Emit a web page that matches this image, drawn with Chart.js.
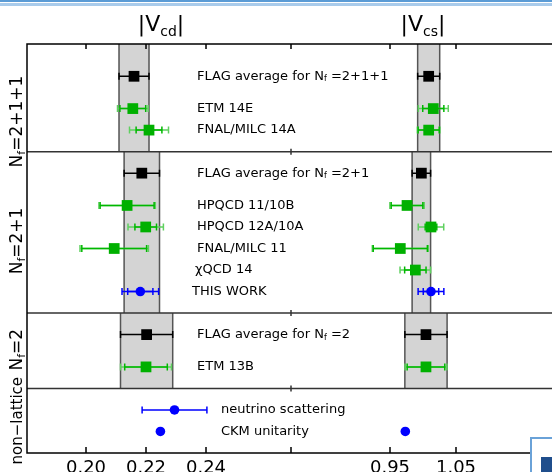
<!DOCTYPE html>
<html>
<head>
<meta charset="utf-8">
<script src="https://cdn.jsdelivr.net/npm/chart.js@4.4.0/dist/chart.umd.min.js"></script>
<style>
html, body { margin: 0; padding: 0; background: #fff; overflow: hidden; width: 552px; height: 472px; }
#wrap { position: absolute; left: 0; top: 0; width: 600px; height: 472px; }
.line1 { position: absolute; left: 0; top: 0; width: 552px; height: 2px; background: #5b9bd5; }
.line2 { position: absolute; left: 0; top: 3px; width: 552px; height: 3px; background: #a9cbeb; }
.box { position: absolute; left: 530px; top: 437px; width: 40px; height: 50px; border: 2px solid #6aa2d8; background: #fff; }
.glyph { position: absolute; left: 9px; top: 18px; width: 12px; height: 20px; background: #1f4e8c; }
</style>
</head>
<body>
<div id="wrap"><canvas id="simpleChart" width="600" height="472"></canvas></div>
<div class="line1"></div><div class="line2"></div>
<div class="box"><div class="glyph"></div></div>
<script>
const simpleChart = document.querySelector("#simpleChart");

// rows, top to bottom
const rowLabels = ['FLAG average for N_f =2+1+1', 'ETM 14E', 'FNAL/MILC 14A',
                   'FLAG average for N_f =2+1', 'HPQCD 11/10B', 'HPQCD 12A/10A', 'FNAL/MILC 11', '\u03c7QCD 14', 'THIS WORK',
                   'FLAG average for N_f =2', 'ETM 13B',
                   'neutrino scattering', 'CKM unitarity'];
const rowPos =  [1.5, 3, 4, 6, 7.5, 8.5, 9.5, 10.5, 11.5, 13.5, 15, 17, 18];
const rowKind = ['avg', 'lat', 'lat', 'avg', 'lat', 'lat', 'lat', 'lat', 'this', 'avg', 'lat', 'ext', 'ext'];

// |Vcd|
const vcd =     [0.2160, 0.2156, 0.2210, 0.2186, 0.2137, 0.2199, 0.2094, null, 0.2181, 0.2202, 0.2200, 0.2295, 0.2248];
const vcdStat = [0.0050, 0.0043, 0.0043, 0.0059, 0.0090, 0.0036, 0.0108, null, 0.0042, 0.0087, 0.0071, 0.0108, 0];
const vcdTot =  [0.0050, 0.0051, 0.0065, 0.0059, 0.0094, 0.0059, 0.0114, null, 0.0061, 0.0087, 0.0085, 0.0108, 0];
// |Vcs|
const vcs =     [1.0086, 1.0156, 1.0086, 0.9975, 0.9758, 1.0121, 0.9656, 0.9884, 1.0121, 1.0045, 1.0045, null, 0.9732];
const vcsStat = [0.0167, 0.0160, 0.0160, 0.0140, 0.0240, 0.0088, 0.0410, 0.0162, 0.0117, 0.0320, 0.0285, null, 0];
const vcsTot =  [0.0167, 0.0227, 0.0171, 0.0140, 0.0260, 0.0193, 0.0424, 0.0232, 0.0195, 0.0320, 0.0318, null, 0];

const panelEdges = [0, 5, 12.5, 16, 19];
const panelLabels = ['N_f=2+1+1', 'N_f=2+1', 'N_f=2', 'non\u2212lattice'];
const panelAvgRow = [0, 3, 9, null];
const vcdTicks = [0.20, 0.22, 0.24];
const vcsTicks = [0.95, 1.05];
const vcsMinorTicks = [0.80];

// layout only
const labelX = [197, 197, 197, 197, 197, 197, 197, 195, 192, 197, 197, 221, 221];
const panelLabelY = [3.6, 9.15, 14.2, 17.5];
const panelLabelSize = [17, 17, 17, 15];
const FONT = '"DejaVu Sans", sans-serif';
const GREEN = '#00b000', GREEN_IN = '#00b800', GREEN_OUT = '#5fd05f';

function richParts(str, size) {
    // 'N_f' -> N with subscript f
    const i = str.indexOf('_f');
    if (i < 0) return [[str, size, 0]];
    return [[str.slice(0, i), size, 0], ['f', Math.round(size * 0.62), size * 0.22], [str.slice(i + 2), size, 0]];
}
function drawParts(ctx, parts, x, y, align) {
    let w = 0;
    parts.forEach(p => { ctx.font = p[1] + 'px ' + FONT; w += ctx.measureText(p[0]).width; });
    let cx = align === 'center' ? x - w / 2 : x;
    parts.forEach(p => {
        ctx.font = p[1] + 'px ' + FONT;
        ctx.fillText(p[0], cx, y + p[2]);
        cx += ctx.measureText(p[0]).width;
    });
}
function errBar(ctx, x0, x1, y, color) {
    ctx.strokeStyle = color;
    ctx.lineWidth = 1.5;
    ctx.beginPath();
    ctx.moveTo(x0, y); ctx.lineTo(x1, y);
    ctx.moveTo(x0, y - 3.5); ctx.lineTo(x0, y + 3.5);
    ctx.moveTo(x1, y - 3.5); ctx.lineTo(x1, y + 3.5);
    ctx.stroke();
}

const decor = {
    id: 'decor',
    beforeDatasetsDraw(chart) {
        const ctx = chart.ctx, a = chart.chartArea, ys = chart.scales.y;
        ctx.save();
        // FLAG bands
        panelAvgRow.forEach((r, p) => {
            if (r === null) return;
            const y0 = ys.getPixelForValue(panelEdges[p]), y1 = ys.getPixelForValue(panelEdges[p + 1]);
            [['xcd', vcd, vcdTot], ['xcs', vcs, vcsTot]].forEach(([id, v, e]) => {
                const s = chart.scales[id];
                const l = s.getPixelForValue(v[r] - e[r]), rr = s.getPixelForValue(v[r] + e[r]);
                ctx.fillStyle = '#d4d4d4';
                ctx.fillRect(l, y0, rr - l, y1 - y0);
                ctx.strokeStyle = '#555';
                ctx.lineWidth = 1.5;
                ctx.beginPath();
                ctx.moveTo(l, y0); ctx.lineTo(l, y1);
                ctx.moveTo(rr, y0); ctx.lineTo(rr, y1);
                ctx.stroke();
            });
        });
        // panel separators
        ctx.strokeStyle = '#333';
        ctx.lineWidth = 1.5;
        panelEdges.slice(1, -1).forEach(e => {
            const y = ys.getPixelForValue(e);
            ctx.beginPath(); ctx.moveTo(a.left, y); ctx.lineTo(a.right, y); ctx.stroke();
            const tx = chart.scales.xcs.getPixelForValue(vcsMinorTicks[0]);
            ctx.beginPath(); ctx.moveTo(tx, y - 3); ctx.lineTo(tx, y + 3); ctx.stroke();
        });
        // error bars
        [['xcd', vcd, vcdStat, vcdTot], ['xcs', vcs, vcsStat, vcsTot]].forEach(([id, v, st, tot]) => {
            const s = chart.scales[id];
            v.forEach((val, i) => {
                if (val === null || !tot[i]) return;
                const y = ys.getPixelForValue(rowPos[i]);
                const k = rowKind[i];
                const cIn = k === 'avg' ? '#000' : (k === 'lat' ? GREEN_IN : '#0000ff');
                const cOut = k === 'lat' ? GREEN_OUT : cIn;
                errBar(ctx, s.getPixelForValue(val - tot[i]), s.getPixelForValue(val + tot[i]), y, cOut);
                if (st[i] < tot[i]) errBar(ctx, s.getPixelForValue(val - st[i]), s.getPixelForValue(val + st[i]), y, cIn);
            });
        });
        ctx.restore();
    },
    afterDraw(chart) {
        const ctx = chart.ctx, a = chart.chartArea, ys = chart.scales.y;
        ctx.save();
        // frame
        ctx.strokeStyle = '#000';
        ctx.lineWidth = 1.5;
        ctx.strokeRect(a.left, a.top, a.right - a.left, a.bottom - a.top);
        // ticks
        const tickXs = vcdTicks.map(t => chart.scales.xcd.getPixelForValue(t))
            .concat(vcsTicks.map(t => chart.scales.xcs.getPixelForValue(t)))
            .concat(vcsMinorTicks.map(t => chart.scales.xcs.getPixelForValue(t)));
        ctx.beginPath();
        tickXs.forEach(x => {
            ctx.moveTo(x, a.top); ctx.lineTo(x, a.top + 5);
            ctx.moveTo(x, a.bottom); ctx.lineTo(x, a.bottom - 6);
        });
        ctx.stroke();
        ctx.fillStyle = '#000';
        ctx.textAlign = 'center';
        ctx.textBaseline = 'alphabetic';
        ctx.font = '18px ' + FONT;
        vcdTicks.forEach(t => ctx.fillText(t.toFixed(2), chart.scales.xcd.getPixelForValue(t), a.bottom + 20));
        vcsTicks.forEach(t => ctx.fillText(t.toFixed(2), chart.scales.xcs.getPixelForValue(t), a.bottom + 20));
        // column titles
        ctx.textAlign = 'left';
        drawParts(ctx, [['|V', 22, 0], ['cd', 14, 5], ['|', 22, 0]], 161, 31, 'center');
        drawParts(ctx, [['|V', 22, 0], ['cs', 14, 5], ['|', 22, 0]], 423, 31, 'center');
        // row labels
        ctx.textBaseline = 'middle';
        rowLabels.forEach((lab, i) => {
            drawParts(ctx, richParts(lab, 13), labelX[i], ys.getPixelForValue(rowPos[i]), 'left');
        });
        // panel labels, rotated
        panelLabels.forEach((lab, p) => {
            ctx.save();
            ctx.translate(18, ys.getPixelForValue(panelLabelY[p]));
            ctx.rotate(-Math.PI / 2);
            drawParts(ctx, richParts(lab, panelLabelSize[p]), 0, 0, 'center');
            ctx.restore();
        });
        ctx.restore();
    }
};

function pts(v, kinds) {
    const out = [];
    v.forEach((val, i) => { if (val !== null && kinds.includes(rowKind[i])) out.push({x: val, y: rowPos[i]}); });
    return out;
}
function dsets(id, v) {
    return [
        {data: pts(v, ['avg']), xAxisID: id, pointStyle: 'rect', pointRadius: 7.6, backgroundColor: '#000', borderWidth: 0},
        {data: pts(v, ['lat']), xAxisID: id, pointStyle: 'rect', pointRadius: 7.6, backgroundColor: GREEN, borderWidth: 0},
        {data: pts(v, ['this', 'ext']), xAxisID: id, pointStyle: 'circle', pointRadius: 4.8, backgroundColor: '#0000ff', borderWidth: 0}
    ];
}

const myChart = new Chart(simpleChart, {
    type: 'scatter',
    data: { datasets: dsets('xcd', vcd).concat(dsets('xcs', vcs)) },
    options: {
        responsive: false,
        devicePixelRatio: 1,
        animation: false,
        layout: { padding: { left: 27, top: 44, right: 25, bottom: 19 } },
        scales: {
            xcd: { type: 'linear', display: false, min: 0.18033, max: 0.18033 + 548 / 3000 },
            xcs: { type: 'linear', display: false, min: 0.40, max: 0.40 + 548 / 660 },
            y: { type: 'linear', display: false, min: 0, max: 19, reverse: true }
        },
        plugins: { legend: { display: false }, tooltip: { enabled: false } }
    },
    plugins: [decor]
});
</script>
</body>
</html>
